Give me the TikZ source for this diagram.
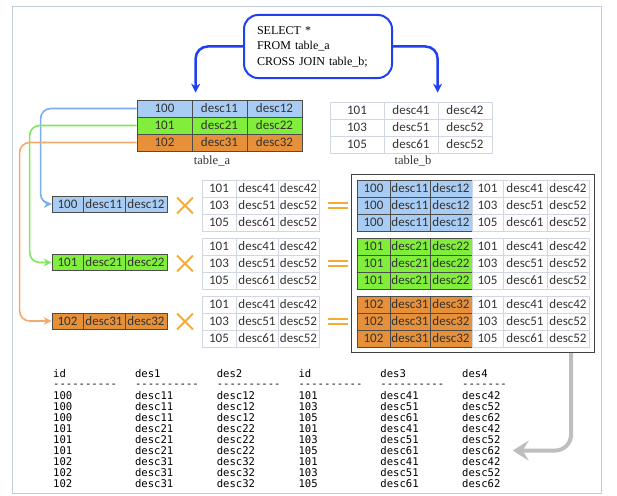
\documentclass[tikz,border=0pt]{standalone}
\usepackage{fontspec}
\setmainfont{Liberation Serif}
\setsansfont{Carlito}
\setmonofont{DejaVu Sans Mono}
\usetikzlibrary{arrows.meta,shapes.misc,fit}

\definecolor{rowblue}{RGB}{168,204,244}
\definecolor{rowgreen}{RGB}{128,238,58}
\definecolor{roworange}{RGB}{230,144,58}
\definecolor{sqlblue}{RGB}{32,64,240}
\definecolor{gridline}{RGB}{208,214,226}
\definecolor{markorange}{RGB}{242,172,52}
\definecolor{linkblue}{RGB}{122,172,240}
\definecolor{linkgreen}{RGB}{128,232,92}
\definecolor{linkorange}{RGB}{240,172,112}
\definecolor{framegray}{RGB}{196,204,218}
\definecolor{flowgray}{RGB}{190,190,190}

\begin{document}
\begin{tikzpicture}[x=1pt,y=-1pt,
  every node/.style={inner sep=0pt,text=black!80},
  cell/.style={font=\sffamily\fontsize{13}{15}\selectfont,minimum height=17,draw=gridline,line width=0.8pt},
  keycell/.style={cell,draw=black!70,line width=0.7pt},
  outtext/.style={font=\ttfamily\fontsize{10.6}{11}\selectfont,anchor=base west,text=black},
  link/.style={line width=1.6pt,rounded corners=10,-{Stealth[length=8pt,width=8pt]}},
  sqllink/.style={sqlblue,line width=2.5pt,rounded corners=12,-{Stealth[length=9pt,width=9pt]}},
  opmark/.style={markorange,line width=1.8pt}]
\useasboundingbox (0,0) rectangle (617,495);
\draw[framegray,line width=1pt] (12,7) rectangle (601,493);

% the query
\node[draw=sqlblue,line width=2pt,rounded corners=14,minimum height=63,text width=122,inner xsep=13,
  align=left,font=\rmfamily\fontsize{12}{15.5}\selectfont,text=black] (sql) at (318,46.5)
  {SELECT *\\FROM table\_a\\CROSS JOIN table\_b;};

% table_a and table_b
\foreach \id/\da/\db/\c [count=\r] in {100/desc11/desc12/rowblue,101/desc21/desc22/rowgreen,102/desc31/desc32/roworange}{
  \node[keycell,fill=\c,minimum width=55] (ta\r1) at (164.5,91.5+17*\r) {\id};
  \node[keycell,fill=\c,minimum width=55] (ta\r2) at (219.5,91.5+17*\r) {\da};
  \node[keycell,fill=\c,minimum width=55] (ta\r3) at (274.5,91.5+17*\r) {\db};
}
\foreach \n/\d/\e [count=\r] in {101/desc41/desc42,103/desc51/desc52,105/desc61/desc52}{
  \node[cell,minimum width=54] (tb\r1) at (357,93.5+17*\r) {\n};
  \node[cell,minimum width=54] (tb\r2) at (411,93.5+17*\r) {\d};
  \node[cell,minimum width=54] (tb\r3) at (465,93.5+17*\r) {\e};
}
\node[font=\rmfamily\fontsize{12.5}{14}\selectfont] (tanm) at (212,161) {table\_a};
\node[font=\rmfamily\fontsize{12.5}{14}\selectfont] (tbnm) at (413,161) {table\_b};

\draw[sqllink] (sql.west) -| ([xshift=4,yshift=7]ta12.north west);
\draw[sqllink] (sql.east) -| ([yshift=9]tb13.north west);

% one row of table_a times table_b
\foreach \id/\da/\db/\c [count=\g] in {100/desc11/desc12/rowblue,101/desc21/desc22/rowgreen,102/desc31/desc32/roworange}{
  \node[keycell,fill=\c,minimum width=31,minimum height=16] (sa\g1) at (67.5,145.5+58.5*\g) {\id};
  \node[keycell,fill=\c,minimum width=42,minimum height=16] (sa\g2) at (104,145.5+58.5*\g) {\da};
  \node[keycell,fill=\c,minimum width=42,minimum height=16] (sa\g3) at (146,145.5+58.5*\g) {\db};
  \node[cross out,draw=markorange,line width=1.8pt,minimum size=14] (x\g) at (185,147.5+58*\g) {};
  \coordinate (eq\g) at (338,147.5+58*\g);
  \draw[opmark] ([shift={(-10,-2.5)}]eq\g) -- ++(20,0) ([shift={(-10,2.5)}]eq\g) -- ++(20,0);
  \foreach \n/\d/\e [count=\r] in {101/desc41/desc42,103/desc51/desc52,105/desc61/desc52}{
    \node[cell,minimum width=34] (mb\g\r1) at (219,113.5+58*\g+17*\r) {\n};
    \node[cell,minimum width=42] (mb\g\r2) at (257,113.5+58*\g+17*\r) {\d};
    \node[cell,minimum width=41] (mb\g\r3) at (298.5,113.5+58*\g+17*\r) {\e};
    \node[keycell,fill=\c,minimum width=33] (rs\g\r1) at (373.5,113.5+58*\g+17*\r) {\id};
    \node[keycell,fill=\c,minimum width=40] (rs\g\r2) at (410,113.5+58*\g+17*\r) {\da};
    \node[keycell,fill=\c,minimum width=42] (rs\g\r3) at (451,113.5+58*\g+17*\r) {\db};
    \node[cell,minimum width=31] (rs\g\r4) at (487.5,113.5+58*\g+17*\r) {\n};
    \node[cell,minimum width=44] (rs\g\r5) at (525,113.5+58*\g+17*\r) {\d};
    \node[cell,minimum width=42] (rs\g\r6) at (568,113.5+58*\g+17*\r) {\e};
  }
}
\node[draw=black!75,line width=1.3pt,fit=(rs111)(rs336),inner sep=5] (res) {};

\draw[link,linkblue] (ta11.west) -- ++(-96,0) |- (sa11.west);
\draw[link,linkgreen] (ta21.west) -- ++(-107,0) |- (sa21.west);
\draw[link,linkorange] (ta31.west) -- ++(-117,0) |- (sa31.west);

% query output
\foreach \t [count=\i] in {id,des1,des2,id,des3,des4}
  \node[outtext] (h\i) at (-28.8+81.8*\i,377) {\t};
\foreach \t [count=\i] in {----------,----------,----------,----------,----------,-------}
  \node[outtext] (d\i) at (-28.8+81.8*\i,387.5) {\t};
\foreach \a/\b/\c/\d/\e/\f [count=\k] in {100/desc11/desc12/101/desc41/desc42,100/desc11/desc12/103/desc51/desc52,
    100/desc11/desc12/105/desc61/desc62,101/desc21/desc22/101/desc41/desc42,101/desc21/desc22/103/desc51/desc52,
    101/desc21/desc22/105/desc61/desc62,102/desc31/desc32/101/desc41/desc42,102/desc31/desc32/103/desc51/desc52,
    102/desc31/desc32/105/desc61/desc62}{
  \foreach \t [count=\i] in {\a,\b,\c,\d,\e,\f}
    \node[outtext] (o\k\i) at (-28.8+81.8*\i,387.9+11.1*\k) {\t};
}
\draw[flowgray,line width=4pt,rounded corners=16,-{Stealth[length=16pt,width=20pt,inset=6pt]}]
  ([xshift=-24]res.south east) |- ([xshift=12]o66.east);
\end{tikzpicture}
\end{document}
